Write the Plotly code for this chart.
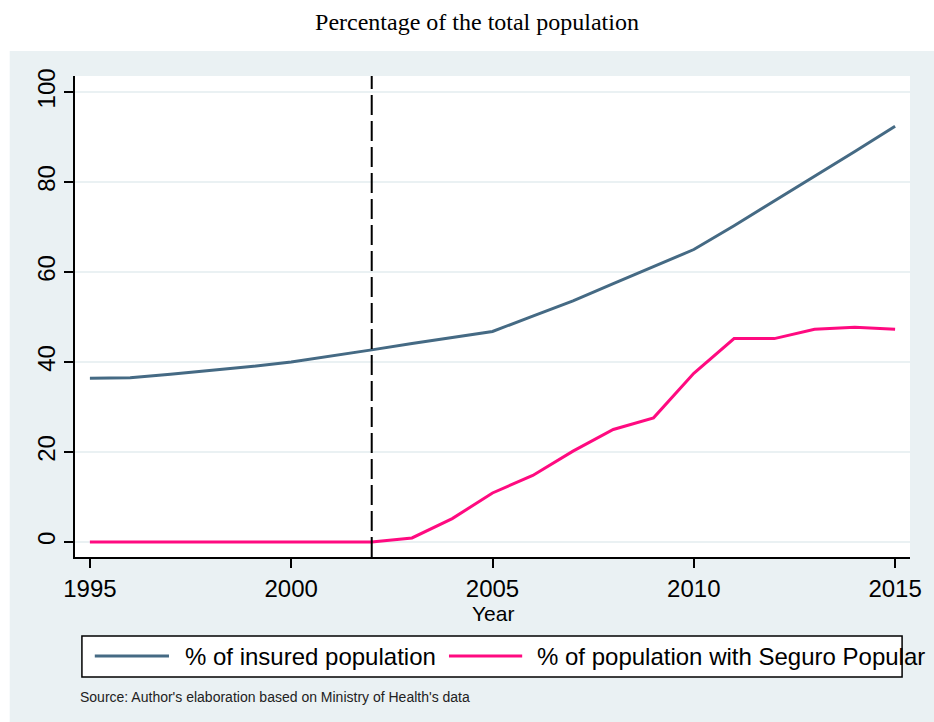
import plotly.graph_objects as go

# ---------------- data ----------------
years = list(range(1995, 2016))
insured_pct = [36.4, 36.5, 37.3, 38.1, 39.0, 40.0, 41.3, 42.7, 44.1, 45.4, 46.8,
               50.2, 53.6, 57.4, 61.2, 65.0, 70.3, 75.8, 81.2, 86.8, 92.4]
seguro_pct = [0.0, 0.0, 0.0, 0.0, 0.0, 0.0, 0.0, 0.0, 0.9, 5.2, 10.9,
              14.8, 20.2, 25.0, 27.6, 37.5, 45.2, 45.2, 47.3, 47.7, 47.3]
series_names = ["% of insured population", "% of population with Seguro Popular"]
x_ticks = [1995, 2000, 2005, 2010, 2015]
y_ticks = [0, 20, 40, 60, 80, 100]
policy_year = 2002

title_text = "Percentage of the total population"
x_title = "Year"
source_text = "Source: Author's elaboration based on Ministry of Health's data"

# ---------------- style ----------------
W, H = 934, 722
PL, PR, PT, PB = 75, 919, 76, 557          # plot area in page px
BLUE = "#456A84"
PINK = "#FF0A80"
REGION = "#EAF1F3"
SANS = "Liberation Sans, Arial, sans-serif"
SERIF = "Liberation Serif, Times New Roman, serif"


def px_x(p):
    return (p - PL) / (PR - PL)


def px_y(p):
    return (PB - p) / (PB - PT)


fig = go.Figure()
fig.add_trace(go.Scatter(x=years, y=insured_pct, mode="lines", name=series_names[0],
                         line=dict(color=BLUE, width=3)))
fig.add_trace(go.Scatter(x=years, y=seguro_pct, mode="lines", name=series_names[1],
                         line=dict(color=PINK, width=3)))

shapes = [
    # graph region background
    dict(type="rect", xref="paper", yref="paper", layer="below",
         x0=px_x(9), x1=px_x(W + 20), y0=px_y(51), y1=px_y(H + 20),
         fillcolor=REGION, line=dict(width=0)),
    # plot region white
    dict(type="rect", xref="paper", yref="paper", layer="below",
         x0=0, x1=1, y0=0, y1=1, fillcolor="white", line=dict(width=0)),
    # policy vertical line
    dict(type="line", xref="x", yref="paper", x0=policy_year, x1=policy_year,
         y0=0, y1=1, line=dict(color="black", width=2, dash="20px,6px")),
    # legend box
    dict(type="rect", xref="paper", yref="paper",
         x0=px_x(82), x1=px_x(911), y0=px_y(636), y1=px_y(677),
         fillcolor="white", line=dict(color="black", width=1.5)),
    # legend keys
    dict(type="line", xref="paper", yref="paper",
         x0=px_x(95), x1=px_x(170), y0=px_y(656), y1=px_y(656),
         line=dict(color=BLUE, width=3)),
    dict(type="line", xref="paper", yref="paper",
         x0=px_x(453), x1=px_x(527), y0=px_y(656), y1=px_y(656),
         line=dict(color=PINK, width=3)),
]

annotations = [
    dict(text=series_names[0], xref="paper", yref="paper", x=px_x(184), y=px_y(656),
         xanchor="left", yanchor="middle", showarrow=False,
         font=dict(family=SANS, size=24, color="black")),
    dict(text=series_names[1], xref="paper", yref="paper", x=px_x(540), y=px_y(656),
         xanchor="left", yanchor="middle", showarrow=False,
         font=dict(family=SANS, size=24, color="black")),
    dict(text=source_text, xref="paper", yref="paper", x=px_x(78), y=px_y(697),
         xanchor="left", yanchor="middle", showarrow=False,
         font=dict(family=SANS, size=14, color="#222222")),
    dict(text=x_title, xref="paper", yref="paper", x=px_x(497), y=px_y(613),
         xanchor="center", yanchor="middle", showarrow=False,
         font=dict(family=SANS, size=21, color="black")),
]

fig.update_layout(
    width=W, height=H,
    margin=dict(l=PL, r=W - PR, t=PT, b=H - PB, pad=0),
    paper_bgcolor="white",
    plot_bgcolor="rgba(0,0,0,0)",
    showlegend=False,
    title=dict(text=title_text, x=477 / W, xanchor="center",
               y=1 - 22 / H, yanchor="middle", yref="container",
               font=dict(family=SERIF, size=24, color="black")),
    shapes=shapes,
    annotations=annotations,
)

fig.update_xaxes(range=[1994.63, 2015.37], tickvals=x_ticks,
                 ticks="outside", ticklen=9, tickwidth=1.5, tickcolor="black",
                 showline=True, linecolor="black", linewidth=1.5,
                 showgrid=False, zeroline=False,
                 tickfont=dict(family=SANS, size=24, color="black"))
fig.update_yaxes(range=[-3.33, 103.56], tickvals=y_ticks,
                 ticks="outside", ticklen=9, tickwidth=1.5, tickcolor="black",
                 showline=True, linecolor="black", linewidth=1.5,
                 showgrid=True, gridcolor=REGION, gridwidth=2, zeroline=False,
                 tickangle=-90,
                 tickfont=dict(family=SANS, size=24, color="black"))

fig.write_html(
    "out.html",
    config={"displayModeBar": False},
    post_script="document.body.style.margin='0';document.body.style.overflow='hidden';",
)
